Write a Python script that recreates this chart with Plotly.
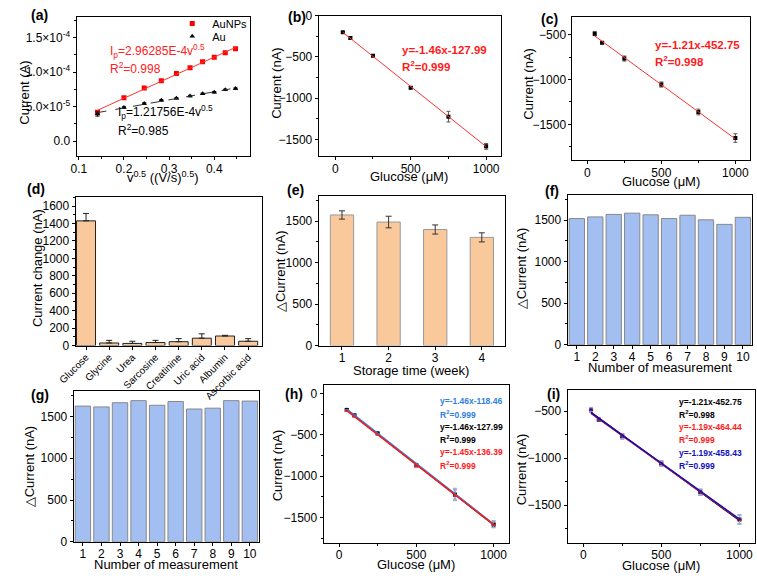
import numpy as np
import plotly.graph_objects as go
from plotly.subplots import make_subplots

W, H = 757, 579
FONT = "Arial, Liberation Sans, sans-serif"

# ---------------- data ----------------
# (a) scan-rate study
v_sqrt = [0.1414, 0.2, 0.2449, 0.2828, 0.3162, 0.3464, 0.3742, 0.4, 0.4243, 0.4472]
ip_aunps = [4.16e-5, 6.29e-5, 7.70e-5, 8.74e-5, 9.77e-5, 1.062e-4, 1.147e-4, 1.214e-4, 1.28e-4, 1.337e-4]
ip_aunps_err = [1.5e-6, 1e-6, 1e-6, 1e-6, 1e-6, 1e-6, 1e-6, 1e-6, 1e-6, 1e-6]
ip_au = [3.92e-5, 4.87e-5, 5.44e-5, 5.90e-5, 6.19e-5, 6.52e-5, 6.85e-5, 7.08e-5, 7.42e-5, 7.60e-5]
ip_au_err = [3e-6, 1e-6, 1e-6, 1e-6, 1e-6, 1e-6, 1e-6, 1e-6, 1e-6, 1e-6]

# (b) calibration
glucose = [50, 100, 250, 500, 750, 1000]
cur_b = [-201, -269, -486, -873, -1224, -1584]
cur_b_err = [10, 15, 10, 15, 65, 35]
fit_b = (-1.46, -127.99)

# (c) calibration
cur_c = [-489, -591, -766, -1056, -1362, -1653]
cur_c_err = [22, 12, 28, 28, 32, 48]
fit_c = (-1.21, -452.75)

# (d) selectivity
interferents = ["Glucose", "Glycine", "Urea", "Sarcosine", "Creatinine", "Uric acid", "Albumin", "Ascorbic acid"]
cur_change = [1430, 30, 25, 35, 45, 85, 110, 50]
cur_change_err = [85, 30, 25, 25, 35, 50, 8, 30]

# (e) storage stability
weeks = [1, 2, 3, 4]
dcur_e = [1575, 1490, 1400, 1305]
dcur_e_err = [50, 70, 55, 55]

# (f) repeatability
meas = [1, 2, 3, 4, 5, 6, 7, 8, 9, 10]
dcur_f = [1520, 1540, 1570, 1585, 1565, 1520, 1560, 1505, 1450, 1535]

# (g) reproducibility
dcur_g = [1625, 1615, 1665, 1690, 1635, 1680, 1590, 1600, 1690, 1685]

# (h) three sensors
cur_h = {
    "blue": [-195, -262, -478, -862, -1212, -1572],
    "black": cur_b,
    "red": [-210, -278, -494, -880, -1232, -1590],
}
cur_h_err = [10, 15, 10, 15, 65, 35]
fit_h = {"blue": (-1.46, -118.46), "black": (-1.46, -127.99), "red": (-1.45, -136.39)}

# (i) three sensors
cur_i = {
    "black": cur_c,
    "red": [-482, -585, -765, -1055, -1360, -1655],
    "blue": [-486, -590, -770, -1060, -1365, -1650],
}
cur_i_err = [22, 12, 28, 28, 32, 48]
fit_i = {"black": (-1.21, -452.75), "red": (-1.19, -464.44), "blue": (-1.19, -458.43)}

COL = {"blue": "#2f7fe0", "black": "#000000", "red": "#ff1a1a", "navy": "#1010c0"}
ORANGE = "#f9c99c"
BLUEBAR = "#a3bff2"

# ---------------- figure ----------------
fig = make_subplots(rows=3, cols=3)

def rc(i):
    return (i - 1) // 3 + 1, (i - 1) % 3 + 1

domains = {
    1: (60, 238, 10, 153),
    2: (308, 495, 9, 153),
    3: (568, 750, 10, 157),
    4: (59, 250, 195, 347),
    5: (308, 499, 194, 347),
    6: (563, 752, 193, 346),
    7: (57, 247, 394, 548),
    8: (313, 503, 387, 549),
    9: (563, 755, 393, 549),
}

for i, (x0, x1, y0, y1) in domains.items():
    r, c = rc(i)
    axcommon = dict(showline=True, linecolor="black", linewidth=1, mirror=True,
                    ticks="outside", ticklen=3, tickwidth=1, tickcolor="black",
                    showgrid=False, zeroline=False,
                    tickfont=dict(family=FONT, size=12, color="black"))
    fig.update_xaxes(domain=[x0 / W, x1 / W], row=r, col=c, ticklabelstandoff=-2, **axcommon)
    fig.update_yaxes(domain=[1 - y1 / H, 1 - y0 / H], row=r, col=c, **axcommon)

minor = dict(ticks="outside", ticklen=2, tickcolor="black")

# (a)
for y_, e_, col, sym, name, lg in [(ip_aunps, ip_aunps_err, "#ff0000", "square", "AuNPs", "legend"),
                                   (ip_au, ip_au_err, "#000000", "triangle-up", "Au", "legend2")]:
    fig.add_trace(go.Scatter(x=v_sqrt, y=y_, mode="markers", name=name, legend=lg,
                             marker=dict(symbol=sym, size=5, color=col),
                             error_y=dict(type="data", array=e_, color=col, thickness=1, width=2),
                             showlegend=True), row=1, col=1)
for y_, col, dash in [(ip_aunps, "#ff3030", "solid"), (ip_au, "#333333", "dash")]:
    p = np.polyfit(v_sqrt, y_, 1)
    xx = np.array([v_sqrt[0], v_sqrt[-1]])
    fig.add_trace(go.Scatter(x=xx, y=np.polyval(p, xx), mode="lines", showlegend=False,
                             line=dict(color=col, width=1, dash=dash)), row=1, col=1)
fig.update_xaxes(range=[0.095, 0.48], tickvals=[0.1, 0.2, 0.3, 0.4], ticktext=["0.1", "0.2", "0.3", "0.4"],
                 minor=dict(ticks="outside", ticklen=2, tickcolor="black", dtick=0.05), row=1, col=1)
fig.update_yaxes(range=[-2.2e-5, 1.8e-4], tickvals=[0, 5e-5, 1e-4, 1.5e-4],
                 ticktext=["0.0", "5.0×10<sup>-5</sup>", "1.0×10<sup>-4</sup>", "1.5×10<sup>-4</sup>"],
                 minor=dict(ticks="outside", ticklen=2, tickcolor="black", dtick=2.5e-5), row=1, col=1)

# (b), (c)
def calib(row, col, y_, err, fit, rng, xr=(-110, 1100)):
    fig.add_trace(go.Scatter(x=glucose, y=y_, mode="markers", showlegend=False,
                             marker=dict(symbol="square", size=4, color="black"),
                             error_y=dict(type="data", array=err, color="#555555", thickness=1, width=2)),
                  row=row, col=col)
    xx = np.array([glucose[0], glucose[-1]])
    fig.add_trace(go.Scatter(x=xx, y=fit[0] * xx + fit[1], mode="lines", showlegend=False,
                             line=dict(color="#ff3030", width=1)), row=row, col=col)
    fig.update_xaxes(range=list(xr), tickvals=[0, 500, 1000], minor=dict(minor, dtick=250), row=row, col=col)
    fig.update_yaxes(range=rng, dtick=500, minor=dict(minor, dtick=250), row=row, col=col)

calib(1, 2, cur_b, cur_b_err, fit_b, [-1705, 0])
calib(1, 3, cur_c, cur_c_err, fit_c, [-1900, -300], xr=(-100, 1100))

# (d)
fig.add_trace(go.Bar(x=interferents, y=cur_change, showlegend=False, width=0.82,
                     marker=dict(color=ORANGE, line=dict(color="#222222", width=1)),
                     error_y=dict(type="data", array=cur_change_err, arrayminus=[0] * 8, symmetric=False,
                                  color="#222222", thickness=1, width=3)), row=2, col=1)
fig.update_xaxes(range=[-0.45, 7.6], tickangle=-45, tickfont=dict(size=10), ticklen=3, row=2, col=1)
fig.update_yaxes(range=[0, 1700], dtick=200, minor=dict(minor, dtick=100), row=2, col=1)

# (e)
fig.add_trace(go.Bar(x=weeks, y=dcur_e, showlegend=False, width=0.5,
                     marker=dict(color=ORANGE, line=dict(color="#999999", width=1)),
                     error_y=dict(type="data", array=dcur_e_err, color="#333333", thickness=1, width=3)),
              row=2, col=2)
fig.update_xaxes(range=[0.5, 4.5], dtick=1, row=2, col=2)
fig.update_yaxes(range=[0, 1800], dtick=500, minor=dict(minor, dtick=250), row=2, col=2)

# (f), (g)
for (r, c), vals in [((2, 3), dcur_f), ((3, 1), dcur_g)]:
    fig.add_trace(go.Bar(x=meas, y=vals, showlegend=False, width=0.83,
                         marker=dict(color=BLUEBAR, line=dict(color="#888888", width=1))), row=r, col=c)
    fig.update_xaxes(range=[0.5, 10.5], dtick=1, row=r, col=c)
    fig.update_yaxes(range=[0, 1800], dtick=500, minor=dict(minor, dtick=250), row=r, col=c)

# (h)
for key, sym in [("blue", "circle"), ("black", "square"), ("red", "triangle-up")]:
    fig.add_trace(go.Scatter(x=glucose, y=cur_h[key], mode="markers", showlegend=False,
                             marker=dict(symbol=sym, size=4, color=COL[key]),
                             error_y=dict(type="data", array=cur_h_err, color="#9aa8c8", thickness=1, width=2)),
                  row=3, col=2)
for key in ["black", "blue", "red"]:
    xx = np.array([glucose[0], glucose[-1]])
    fig.add_trace(go.Scatter(x=xx, y=fit_h[key][0] * xx + fit_h[key][1], mode="lines", showlegend=False,
                             line=dict(color=COL[key], width=1.5)), row=3, col=2)
fig.update_xaxes(range=[-100, 1100], tickvals=[0, 500, 1000], minor=dict(minor, dtick=250), row=3, col=2)
fig.update_yaxes(range=[-1805, 105], dtick=500, minor=dict(minor, dtick=250), row=3, col=2)

# (i)
ci = {"black": "#000000", "red": "#ff1a1a", "blue": COL["navy"]}
for key, sym in [("black", "square"), ("red", "circle"), ("blue", "triangle-up")]:
    fig.add_trace(go.Scatter(x=glucose, y=cur_i[key], mode="markers", showlegend=False,
                             marker=dict(symbol=sym, size=4, color=ci[key]),
                             error_y=dict(type="data", array=cur_i_err, color="#9aa8d8", thickness=1, width=2)),
                  row=3, col=3)
for key in ["black", "red", "blue"]:
    xx = np.array([glucose[0], glucose[-1]])
    fig.add_trace(go.Scatter(x=xx, y=fit_i[key][0] * xx + fit_i[key][1], mode="lines", showlegend=False,
                             line=dict(color=ci[key], width=1.5)), row=3, col=3)
fig.update_xaxes(range=[-100, 1100], tickvals=[0, 500, 1000], minor=dict(minor, dtick=250), row=3, col=3)
fig.update_yaxes(range=[-1900, -280], dtick=500, minor=dict(minor, dtick=250), row=3, col=3)

# ---------------- annotations ----------------
anns = []
def ann(xp, yp, text, size=12, color="black", angle=0, xanchor="left", bold=False):
    if bold:
        text = "<b>" + text + "</b>"
    anns.append(dict(x=xp / W, y=1 - yp / H, xref="paper", yref="paper", text=text, showarrow=False,
                     xanchor=xanchor, yanchor="middle", textangle=angle,
                     font=dict(family=FONT, size=size, color=color)))

# panel labels
for lab, xp, yp in [("(a)", 11, 8), ("(b)", 275, 10), ("(c)", 534, 12), ("(d)", 7, 186),
                    ("(e)", 274, 188), ("(f)", 538, 189), ("(g)", 11, 398), ("(h)", 271, 397), ("(i)", 540, 397)]:
    ann(xp, yp, lab, size=14, bold=True)

# axis titles (y)
for txt, xp, yp in [("Current (A)", 7, 88), ("Current (nA)", 264, 78), ("Current (nA)", 523, 79),
                    ("Current change (nA)", 20, 268), ("△Current (nA)", 269, 271), ("△Current (nA)", 516, 268),
                    ("△Current (nA)", 12, 471), ("Current (nA)", 266, 470), ("Current (nA)", 516, 474)]:
    ann(xp, yp, txt, size=13, angle=-90, xanchor="center")

# axis titles (x)
for txt, xp, yp in [("v<sup>0.5</sup> ((V/s)<sup>0.5</sup>)", 149, 174), ("Glucose (μM)", 401, 174),
                    ("Glucose (μM)", 659, 179), ("Storage time (week)", 403, 372),
                    ("Number of measurement", 658, 369), ("Number of measurement", 152, 571),
                    ("Glucose (μM)", 408, 571), ("Glucose (μM)", 659, 572)]:
    ann(xp, yp, txt, size=13, xanchor="center")

# (a) equations
ann(92, 45, "I<sub>p</sub>=2.96285E-4v<sup>0.5</sup>", size=12, color="#ff2020")
ann(92, 63, "R<sup>2</sup>=0.998", size=12, color="#ff2020")
ann(100, 108, "I<sub>p</sub>=1.21756E-4v<sup>0.5</sup>", size=12, color="black")
ann(100, 126, "R<sup>2</sup>=0.985", size=12, color="black")

# (b), (c) equations
ann(391, 44, "y=-1.46x-127.99", size=11.5, color="#ff1a1a", bold=True)
ann(391, 60, "R<sup>2</sup>=0.999", size=11.5, color="#ff1a1a", bold=True)
ann(650, 39, "y=-1.21x-452.75", size=11.5, color="#ff1a1a", bold=True)
ann(650, 55, "R<sup>2</sup>=0.998", size=11.5, color="#ff1a1a", bold=True)

# (h) equations
for j, (txt, key) in enumerate([("y=-1.46x-118.46", "blue"), ("R<sup>2</sup>=0.999", "blue"),
                                 ("y=-1.46x-127.99", "black"), ("R<sup>2</sup>=0.999", "black"),
                                 ("y=-1.45x-136.39", "red"), ("R<sup>2</sup>=0.999", "red")]):
    ann(430, 404 + j * 13.1, txt, size=8.5, color=COL[key], bold=True)

# (i) equations
for j, (txt, key) in enumerate([("y=-1.21x-452.75", "black"), ("R<sup>2</sup>=0.998", "black"),
                                 ("y=-1.19x-464.44", "red"), ("R<sup>2</sup>=0.999", "red"),
                                 ("y=-1.19x-458.43", "blue"), ("R<sup>2</sup>=0.999", "blue")]):
    ann(675, 405 + j * 12.9, txt, size=8.5, color=ci[key], bold=True)

leg_common = dict(xanchor="left", yanchor="middle", bgcolor="rgba(0,0,0,0)",
                  font=dict(family=FONT, size=11, color="black"), borderwidth=0)
fig.update_layout(
    width=W, height=H, margin=dict(l=0, r=0, t=0, b=0),
    paper_bgcolor="white", plot_bgcolor="white",
    font=dict(family=FONT, size=12, color="black"),
    annotations=anns,
    legend=dict(x=158 / W, y=1 - 17 / H, **leg_common),
    legend2=dict(x=158 / W, y=1 - 30 / H, **leg_common),
    bargap=0.15,
)

fig.write_html("out.html")
